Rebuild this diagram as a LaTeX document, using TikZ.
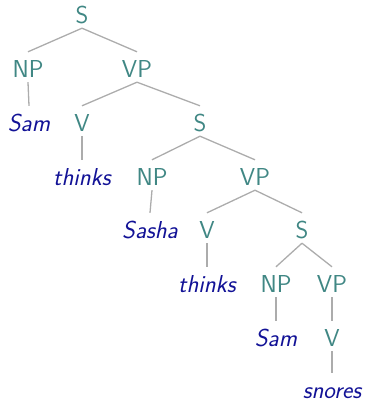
\documentclass[tikz,border=0pt]{standalone}
\usepackage{xcolor}
\usepackage{tikz}

\definecolor{cattext}{RGB}{64,135,132}
\definecolor{wordtext}{RGB}{18,18,150}
\definecolor{branch}{RGB}{172,172,172}

\tikzset{
    cat/.style={inner sep=0pt, text height=25pt, text depth=5pt, anchor=base,
        font=\fontsize{24.5}{28}\selectfont\sffamily, text=cattext},
    word/.style={cat, font=\fontsize{24.5}{28}\selectfont\sffamily\itshape, text=wordtext},
    branchline/.style={branch, line width=1.3pt}
}

\begin{document}
\begin{tikzpicture}[x=1pt, y=-1pt]
                \useasboundingbox (0, 0) rectangle (365, 402);

                \node[cat] (s1) at (82, 23) {S};
                \node[cat] (np1) at (28, 77) {NP};
                \node[cat] (vp1) at (137, 77) {VP};
                \node[word] (sam1) at (29, 131) {Sam};
                \node[cat] (v1) at (82, 131) {V};
                \node[cat] (s2) at (200, 131) {S};
                \node[word] (thinks1) at (82, 185) {thinks};
                \node[cat] (np2) at (152, 185) {NP};
                \node[cat] (vp2) at (255, 185) {VP};
                \node[word] (sasha) at (150, 238) {Sasha};
                \node[cat] (v2) at (207, 238) {V};
                \node[cat] (s3) at (302, 238) {S};
                \node[word] (thinks2) at (207, 292) {thinks};
                \node[cat] (np3) at (276, 292) {NP};
                \node[cat] (vp3) at (332, 292) {VP};
                \node[word] (sam2) at (276, 346) {Sam};
                \node[cat] (v3) at (332, 346) {V};
                \node[word] (snores) at (332, 398) {snores};

                \foreach \a/\b in {s1/np1, s1/vp1, np1/sam1, vp1/v1, vp1/s2, v1/thinks1,
                        s2/np2, s2/vp2, np2/sasha, vp2/v2, vp2/s3, v2/thinks2,
                        s3/np3, s3/vp3, np3/sam2, vp3/v3, v3/snores}
                    \draw[branchline] (\a.south) -- (\b.north);
            \end{tikzpicture}
\end{document}
